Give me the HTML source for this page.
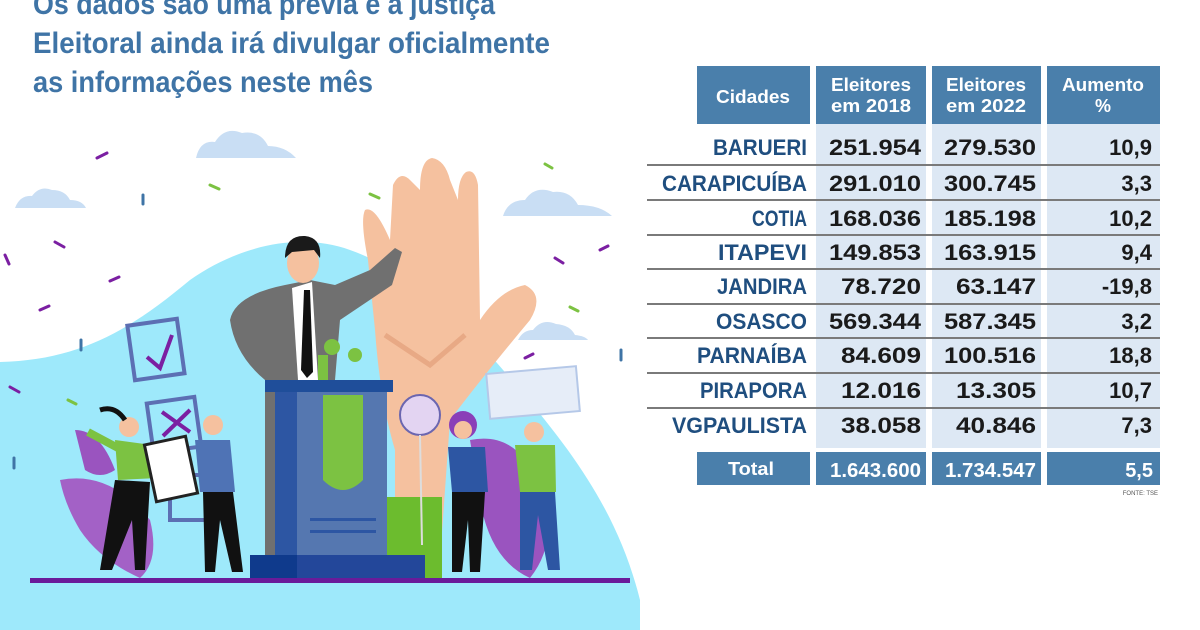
<!DOCTYPE html>
<html><head><meta charset="utf-8"><style>
html,body{margin:0;padding:0;background:#fff;width:1200px;height:630px;overflow:hidden}
svg{display:block}
</style></head><body>
<svg width="1200" height="630" viewBox="0 0 1200 630" xmlns="http://www.w3.org/2000/svg" font-family="Liberation Sans, sans-serif">
<rect width="1200" height="630" fill="#fff"/>
<!-- title -->
<g fill="#3f74a6" font-weight="bold" font-size="30">
<text x="33" y="14" textLength="462" lengthAdjust="spacingAndGlyphs">Os dados são uma prévia e a justiça</text>
<text x="33" y="53" textLength="517" lengthAdjust="spacingAndGlyphs">Eleitoral ainda irá divulgar oficialmente</text>
<text x="33" y="92" textLength="340" lengthAdjust="spacingAndGlyphs">as informações neste mês</text>
</g>
<!-- cyan blob -->
<path d="M0,362 C80,360 130,330 190,280 C240,245 300,232 350,250 C420,275 470,330 520,390 C580,460 620,520 640,600 L640,630 L0,630 Z" fill="#9ee9fb"/>
<!-- clouds -->
<g fill="#c9def4">
<path d="M196,158 Q200,140 215,142 Q225,126 242,133 Q260,130 268,146 Q285,146 296,158 Z"/>
<path d="M15,208 Q20,195 32,196 Q40,185 52,190 Q65,190 70,200 Q82,200 86,208 Z"/>
<path d="M503,216 Q508,200 525,200 Q535,185 553,192 Q570,190 578,205 Q600,205 612,216 Z"/>
<path d="M518,340 Q523,330 533,330 Q542,318 556,324 Q570,325 575,335 Q585,336 588,340 Z"/>
</g>
<!-- confetti -->
<g stroke-width="3" stroke-linecap="round">
<g stroke="#7b1fa2">
<line x1="97" y1="158" x2="107" y2="153"/><line x1="55" y1="242" x2="64" y2="247"/><line x1="5" y1="255" x2="9" y2="264"/>
<line x1="110" y1="281" x2="119" y2="277"/><line x1="40" y1="310" x2="49" y2="306"/><line x1="10" y1="387" x2="19" y2="392"/>
<line x1="555" y1="258" x2="563" y2="263"/><line x1="600" y1="250" x2="608" y2="246"/><line x1="449" y1="297" x2="457" y2="302"/><line x1="525" y1="358" x2="533" y2="354"/>
</g>
<g stroke="#7cc242">
<line x1="210" y1="185" x2="219" y2="189"/><line x1="370" y1="194" x2="379" y2="198"/><line x1="545" y1="164" x2="552" y2="168"/><line x1="570" y1="307" x2="578" y2="311"/><line x1="68" y1="400" x2="76" y2="404"/>
</g>
<g stroke="#3f74a6">
<line x1="143" y1="195" x2="143" y2="204"/><line x1="81" y1="340" x2="81" y2="350"/><line x1="14" y1="458" x2="14" y2="468"/><line x1="621" y1="350" x2="621" y2="360"/>
</g>
</g>
<!-- purple leaves -->
<path d="M60,480 Q110,470 150,520 Q160,560 140,578 Q100,560 80,530 Q65,505 60,480Z" fill="#a361c6"/>
<path d="M75,430 Q100,430 115,470 Q100,480 85,470Z" fill="#9a54bf"/>
<path d="M470,440 Q520,430 540,490 Q560,540 530,578 Q490,560 480,500Z" fill="#9a54bf"/>
<!-- check boxes -->
<g fill="none" stroke="#5c6fb3" stroke-width="4">
<rect x="131" y="322" width="50" height="55" transform="rotate(-8 156 350)"/>
<rect x="150" y="400" width="48" height="50" transform="rotate(-8 174 425)"/>
<rect x="170" y="475" width="45" height="45"/>
</g>
<path d="M147,357 L160,368 L172,335" stroke="#7b1fa2" stroke-width="4" fill="none"/>
<path d="M162,412 L190,432 M190,410 L163,436" stroke="#7b1fa2" stroke-width="4"/>
<!-- hand -->
<path d="M395,560 L440,560 L450,420 Q480,380 530,320 Q545,295 525,285 Q500,290 480,320 L478,185 Q475,168 466,172 Q458,178 458,200 L450,180 Q445,160 432,158 Q420,160 420,190 L410,180 Q400,170 393,185 L390,240 Q375,205 365,210 Q360,220 368,260 L375,330 Q380,400 395,450 Z" fill="#f5c19f"/>
<path d="M385,335 L430,365 L465,335" stroke="#e8a985" stroke-width="5" fill="none"/>
<rect x="386" y="497" width="56" height="83" fill="#6cbc2e"/>
<!-- man -->
<path d="M265,560 L265,380 Q235,355 230,320 Q235,295 285,285 L310,280 L335,285 L370,270 L395,248 L402,252 L392,285 L340,320 L335,380 L300,380 L300,560 Z" fill="#707070"/>
<path d="M292,288 L312,282 L318,380 L298,380 Z" fill="#fff"/>
<path d="M304,290 L310,290 L313,372 L307,378 L301,370 Z" fill="#111"/>
<ellipse cx="303" cy="263" rx="16" ry="20" fill="#f5c19f"/>
<path d="M285,258 Q285,235 305,236 Q322,238 320,258 L314,250 L292,252 Z" fill="#1a1a1a"/>
<!-- podium -->
<rect x="318" y="355" width="10" height="25" fill="#7cc242"/><circle cx="332" cy="347" r="8" fill="#7cc242"/><circle cx="355" cy="355" r="7" fill="#7cc242"/>
<rect x="265" y="380" width="128" height="12" fill="#1f4e9a"/>
<rect x="275" y="392" width="112" height="165" fill="#5577b0"/>
<rect x="275" y="392" width="22" height="165" fill="#2d56a3"/>
<path d="M323,395 L363,395 L363,480 Q343,500 323,480 Z" fill="#7cc242"/>
<rect x="310" y="518" width="66" height="3" fill="#2d56a3"/><rect x="310" y="530" width="66" height="3" fill="#2d56a3"/>
<rect x="250" y="555" width="175" height="25" fill="#23479a"/>
<rect x="250" y="555" width="47" height="25" fill="#0f3a8c"/>
<!-- people left -->
<circle cx="129" cy="427" r="10" fill="#f5c19f"/><path d="M100,410 Q115,405 125,420" stroke="#111" stroke-width="5" fill="none"/>
<path d="M115,440 L152,445 L158,478 L118,480 Z" fill="#7cc242"/><path d="M88,432 L118,448" stroke="#7cc242" stroke-width="8"/>
<path d="M115,480 L150,482 L145,570 L135,570 L132,520 L112,570 L100,570 Z" fill="#111"/>
<rect x="150" y="440" width="42" height="58" fill="#fff" stroke="#222" stroke-width="3" transform="rotate(-12 171 469)"/>
<circle cx="213" cy="425" r="10" fill="#f5c19f"/>
<path d="M195,440 L230,440 L235,492 L200,492 Z" fill="#4f73b5"/>
<path d="M203,492 L233,492 L243,572 L232,572 L220,520 L215,572 L205,572 Z" fill="#111"/>
<!-- people right -->
<circle cx="420" cy="415" r="20" fill="#e3d4f2" stroke="#6b66b0" stroke-width="2"/>
<line x1="420" y1="435" x2="422" y2="545" stroke="#ddd" stroke-width="2"/>
<circle cx="463" cy="425" r="14" fill="#8a3fb8"/><circle cx="463" cy="430" r="9" fill="#f5c19f"/>
<path d="M448,447 L485,447 L488,492 L452,492 Z" fill="#2d56a3"/>
<path d="M452,492 L485,492 L480,572 L470,572 L468,520 L462,572 L452,572 Z" fill="#111"/>
<rect x="488" y="370" width="90" height="45" fill="#e6edf8" stroke="#b5c8e8" stroke-width="2" transform="rotate(-5 533 392)"/>
<circle cx="534" cy="432" r="10" fill="#f5c19f"/>
<path d="M515,445 L555,445 L556,492 L520,492 Z" fill="#7cc242"/>
<path d="M520,492 L555,492 L560,570 L548,570 L538,515 L532,570 L520,570 Z" fill="#2d56a3"/>
<!-- ground -->
<rect x="30" y="578" width="600" height="5" fill="#6a1b9a"/>

<!-- table -->
<g fill="#4a7fab">
<rect x="697" y="66" width="113" height="58"/>
<rect x="816" y="66" width="110" height="58"/>
<rect x="932" y="66" width="109" height="58"/>
<rect x="1047" y="66" width="113" height="58"/>
<rect x="697" y="452" width="113" height="33"/>
<rect x="816" y="452" width="110" height="33"/>
<rect x="932" y="452" width="109" height="33"/>
<rect x="1047" y="452" width="113" height="33"/>
</g>
<g fill="#dde8f4">
<rect x="816" y="124" width="110" height="324"/>
<rect x="932" y="124" width="109" height="324"/>
<rect x="1047" y="124" width="113" height="324"/>
</g>
<g stroke="#7a7a7a" stroke-width="2">
<line x1="647" y1="165" x2="1160" y2="165"/><line x1="647" y1="200" x2="1160" y2="200"/>
<line x1="647" y1="235" x2="1160" y2="235"/><line x1="647" y1="269" x2="1160" y2="269"/>
<line x1="647" y1="304" x2="1160" y2="304"/><line x1="647" y1="338" x2="1160" y2="338"/>
<line x1="647" y1="373" x2="1160" y2="373"/><line x1="647" y1="408" x2="1160" y2="408"/>
</g>
<g fill="#fff" font-weight="bold" font-size="18" text-anchor="middle">
<text x="753" y="103" textLength="74" lengthAdjust="spacingAndGlyphs">Cidades</text>
<text x="871" y="91" textLength="80" lengthAdjust="spacingAndGlyphs">Eleitores</text>
<text x="871" y="112" textLength="80" lengthAdjust="spacingAndGlyphs">em 2018</text>
<text x="986" y="91" textLength="80" lengthAdjust="spacingAndGlyphs">Eleitores</text>
<text x="986" y="112" textLength="80" lengthAdjust="spacingAndGlyphs">em 2022</text>
<text x="1103" y="91" textLength="82" lengthAdjust="spacingAndGlyphs">Aumento</text>
<text x="1103" y="112">%</text>
<text x="751" y="475" textLength="46" lengthAdjust="spacingAndGlyphs">Total</text>
</g>
<g fill="#fff" font-weight="bold" font-size="20" text-anchor="end">
<text x="921" y="477" textLength="91" lengthAdjust="spacingAndGlyphs">1.643.600</text>
<text x="1036" y="477" textLength="91" lengthAdjust="spacingAndGlyphs">1.734.547</text>
<text x="1153" y="477">5,5</text>
</g>
<text x="1158" y="495" font-size="6" fill="#555" text-anchor="end">FONTE: TSE</text>
<g fill="#1f4e7f" font-weight="bold" font-size="22" text-anchor="end">
<text x="807" y="155" textLength="94" lengthAdjust="spacingAndGlyphs">BARUERI</text>
<text x="807" y="191" textLength="145" lengthAdjust="spacingAndGlyphs">CARAPICUÍBA</text>
<text x="807" y="226" textLength="55" lengthAdjust="spacingAndGlyphs">COTIA</text>
<text x="807" y="260" textLength="89" lengthAdjust="spacingAndGlyphs">ITAPEVI</text>
<text x="807" y="294" textLength="90" lengthAdjust="spacingAndGlyphs">JANDIRA</text>
<text x="807" y="329" textLength="91" lengthAdjust="spacingAndGlyphs">OSASCO</text>
<text x="807" y="363" textLength="110" lengthAdjust="spacingAndGlyphs">PARNAÍBA</text>
<text x="807" y="398" textLength="107" lengthAdjust="spacingAndGlyphs">PIRAPORA</text>
<text x="807" y="433" textLength="135" lengthAdjust="spacingAndGlyphs">VGPAULISTA</text>
</g>
<g fill="#1a1a1a" font-weight="bold" font-size="22" text-anchor="end">
<text x="921" y="155" textLength="92" lengthAdjust="spacingAndGlyphs">251.954</text><text x="1036" y="155" textLength="92" lengthAdjust="spacingAndGlyphs">279.530</text><text x="1152" y="155">10,9</text>
<text x="921" y="191" textLength="92" lengthAdjust="spacingAndGlyphs">291.010</text><text x="1036" y="191" textLength="92" lengthAdjust="spacingAndGlyphs">300.745</text><text x="1152" y="191">3,3</text>
<text x="921" y="226" textLength="92" lengthAdjust="spacingAndGlyphs">168.036</text><text x="1036" y="226" textLength="92" lengthAdjust="spacingAndGlyphs">185.198</text><text x="1152" y="226">10,2</text>
<text x="921" y="260" textLength="92" lengthAdjust="spacingAndGlyphs">149.853</text><text x="1036" y="260" textLength="92" lengthAdjust="spacingAndGlyphs">163.915</text><text x="1152" y="260">9,4</text>
<text x="921" y="294" textLength="80" lengthAdjust="spacingAndGlyphs">78.720</text><text x="1036" y="294" textLength="80" lengthAdjust="spacingAndGlyphs">63.147</text><text x="1152" y="294">-19,8</text>
<text x="921" y="329" textLength="92" lengthAdjust="spacingAndGlyphs">569.344</text><text x="1036" y="329" textLength="92" lengthAdjust="spacingAndGlyphs">587.345</text><text x="1152" y="329">3,2</text>
<text x="921" y="363" textLength="80" lengthAdjust="spacingAndGlyphs">84.609</text><text x="1036" y="363" textLength="92" lengthAdjust="spacingAndGlyphs">100.516</text><text x="1152" y="363">18,8</text>
<text x="921" y="398" textLength="80" lengthAdjust="spacingAndGlyphs">12.016</text><text x="1036" y="398" textLength="80" lengthAdjust="spacingAndGlyphs">13.305</text><text x="1152" y="398">10,7</text>
<text x="921" y="433" textLength="80" lengthAdjust="spacingAndGlyphs">38.058</text><text x="1036" y="433" textLength="80" lengthAdjust="spacingAndGlyphs">40.846</text><text x="1152" y="433">7,3</text>
</g>
</svg>
</body></html>
